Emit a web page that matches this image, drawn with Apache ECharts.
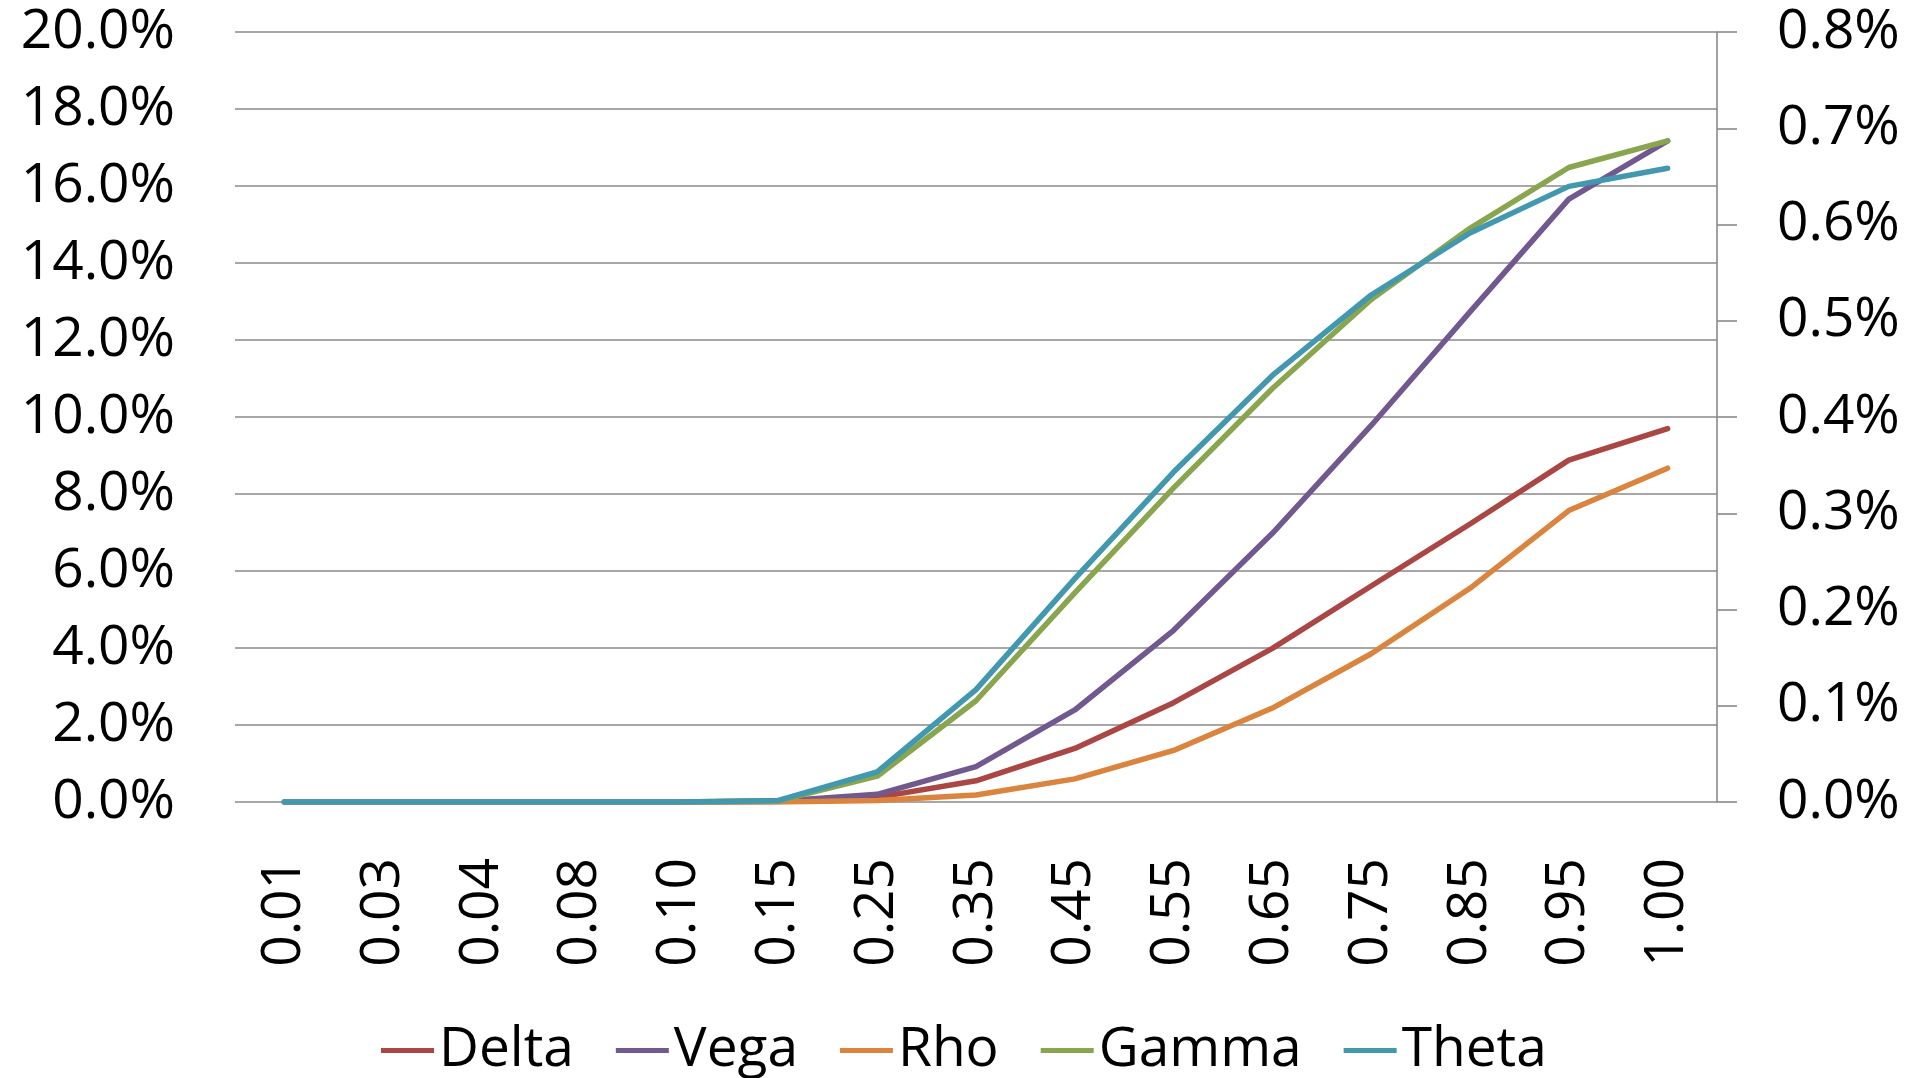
<!DOCTYPE html>
<html>
<head>
<meta charset="utf-8">
<script src="https://cdn.jsdelivr.net/npm/echarts@6/dist/echarts.min.js"></script>
<style>
  html, body { margin: 0; padding: 0; background: #fff; }
  #chart { width: 1915px; height: 1078px; }
</style>
</head>
<body>
<div id="chart"></div>
<script>
// Strike buckets along the x axis
const categories = ['0.01','0.03','0.04','0.08','0.10','0.15','0.25','0.35','0.45','0.55','0.65','0.75','0.85','0.95','1.00'];

// Sensitivity share per bucket, in percent
const delta = [0, 0, 0, 0, 0, 0.01, 0.12, 0.55, 1.39, 2.58, 3.99, 5.61, 7.22, 8.88, 9.70];
const vega  = [0, 0, 0, 0, 0, 0.02, 0.20, 0.92, 2.39, 4.46, 6.98, 9.78, 12.73, 15.66, 17.17];
const rho   = [0, 0, 0, 0, 0, 0.00, 0.04, 0.18, 0.60, 1.34, 2.44, 3.85, 5.55, 7.57, 8.67];
const gamma = [0, 0, 0, 0, 0, 0.03, 0.67, 2.63, 5.43, 8.16, 10.74, 13.05, 14.90, 16.48, 17.17];
const theta = [0, 0, 0, 0, 0, 0.04, 0.78, 2.92, 5.80, 8.57, 11.08, 13.17, 14.78, 15.99, 16.46];

// Axis ranges (percent)
const leftAxis  = { min: 0, max: 20, step: 2 };
const rightAxis = { min: 0, max: 0.8, step: 0.1 };

const seriesList = [
  { name: 'Delta', data: delta, color: '#AA4643' },
  { name: 'Vega',  data: vega,  color: '#71588F' },
  { name: 'Rho',   data: rho,   color: '#DB843D' },
  { name: 'Gamma', data: gamma, color: '#89A54E' },
  { name: 'Theta', data: theta, color: '#4198AF' }
];

const FONT = "'Open Sans', 'DejaVu Sans Condensed', sans-serif";
const tickFont = { fontFamily: FONT, fontSize: 55, color: '#000' };
const gridGray = '#8a8a8a';

const chart = echarts.init(document.getElementById('chart'), null, { renderer: 'canvas' });
chart.setOption({
  animation: false,
  backgroundColor: '#fff',
  grid: { left: 235, right: 198, top: 32, bottom: 276, containLabel: false },
  legend: {
    left: 376,
    top: 1018,
    itemWidth: 53,
    itemHeight: 5,
    itemGap: 42,
    icon: 'rect',
    textStyle: { fontFamily: FONT, fontSize: 55, color: '#000' },
    data: seriesList.map(s => s.name)
  },
  xAxis: {
    type: 'category',
    data: categories,
    boundaryGap: true,
    axisLine: { show: false },
    axisTick: { show: false },
    axisLabel: Object.assign({ rotate: 90, margin: 56, interval: 0 }, tickFont),
    splitLine: { show: false }
  },
  yAxis: [
    {
      type: 'value',
      position: 'left',
      min: leftAxis.min, max: leftAxis.max, interval: leftAxis.step,
      axisLine: { show: false },
      axisTick: { show: false },
      axisLabel: Object.assign({ margin: 60, formatter: v => v.toFixed(1) + '%' }, tickFont),
      splitLine: { show: true, lineStyle: { color: gridGray, width: 1.6 } }
    },
    {
      type: 'value',
      position: 'right',
      min: rightAxis.min, max: rightAxis.max, interval: rightAxis.step,
      axisLine: { show: true, lineStyle: { color: gridGray, width: 1.6 } },
      axisTick: { show: true, inside: false, length: 20, lineStyle: { color: gridGray, width: 1.6 } },
      axisLabel: Object.assign({ margin: 60, formatter: v => v.toFixed(1) + '%' }, tickFont),
      splitLine: { show: false }
    }
  ],
  series: seriesList.map(s => ({
    name: s.name,
    type: 'line',
    yAxisIndex: 0,
    data: s.data,
    showSymbol: false,
    symbol: 'none',
    color: s.color,
    itemStyle: { color: s.color },
    lineStyle: { color: s.color, width: 5.5, cap: 'round', join: 'round' },
    emphasis: { disabled: true }
  }))
});
</script>
</body>
</html>
